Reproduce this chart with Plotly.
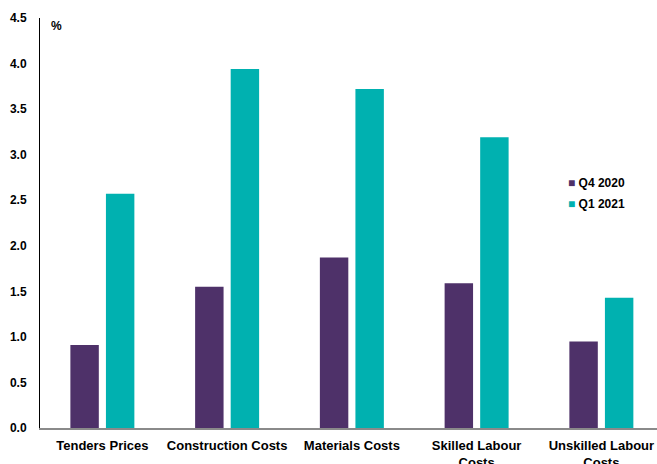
import plotly.graph_objects as go

categories = ["Tenders Prices", "Construction Costs", "Materials Costs",
              "Skilled Labour<br>Costs", "Unskilled Labour<br>Costs"]
q4_2020 = [0.91, 1.55, 1.87, 1.59, 0.95]
q1_2021 = [2.57, 3.94, 3.72, 3.19, 1.43]
y_ticks = [0.0, 0.5, 1.0, 1.5, 2.0, 2.5, 3.0, 3.5, 4.0, 4.5]
series_names = ["Q4 2020", "Q1 2021"]

PURPLE = "#4E3169"
TEAL = "#00B1B0"
FONT = "Liberation Sans, Arial, sans-serif"

fig = go.Figure()
for name, values, colour in zip(series_names, [q4_2020, q1_2021], [PURPLE, TEAL]):
    fig.add_trace(go.Bar(x=categories, y=values, name=name,
                         marker=dict(color=colour, line=dict(width=0)),
                         showlegend=False))

# compact legend: small coloured square followed by the series name
legend_notes = []
for i, (name, colour) in enumerate(zip(series_names, [PURPLE, TEAL])):
    legend_notes.append(dict(
        text=f"<span style='color:{colour}'>■</span> <b>{name}</b>",
        x=0.8525, y=0.598 - i * 0.052, xref="paper", yref="paper",
        xanchor="left", yanchor="middle", showarrow=False,
        font=dict(family=FONT, size=12, color="black")))

legend_notes.append(dict(
    text="<b>%</b>", x=0.015, y=0.98, xref="paper", yref="paper",
    xanchor="left", yanchor="middle", showarrow=False,
    font=dict(family=FONT, size=12, color="black")))

fig.update_layout(
    width=657, height=464,
    margin=dict(l=40, r=0, t=18, b=36),
    paper_bgcolor="white", plot_bgcolor="white",
    barmode="group", bargap=0.43, bargroupgap=0.2,
    font=dict(family=FONT, size=12, color="black"),
    annotations=legend_notes,
)
fig.update_xaxes(
    range=[-0.5, 4.446], showgrid=False, ticks="", automargin=False,
    showline=True, linecolor="#8A8A8A", linewidth=1.5,
    ticklabelstandoff=5,
    tickfont=dict(family=FONT, size=13, color="black", weight="bold"),
)
fig.update_yaxes(
    range=[0, 4.5], tickvals=y_ticks, tickformat=".1f", showgrid=False,
    zeroline=False, ticks="", showline=True, linecolor="black", linewidth=1,
    ticklabelstandoff=10, automargin=False,
    tickfont=dict(family=FONT, size=12, color="black", weight="bold"),
)

fig.write_html("out.html")
